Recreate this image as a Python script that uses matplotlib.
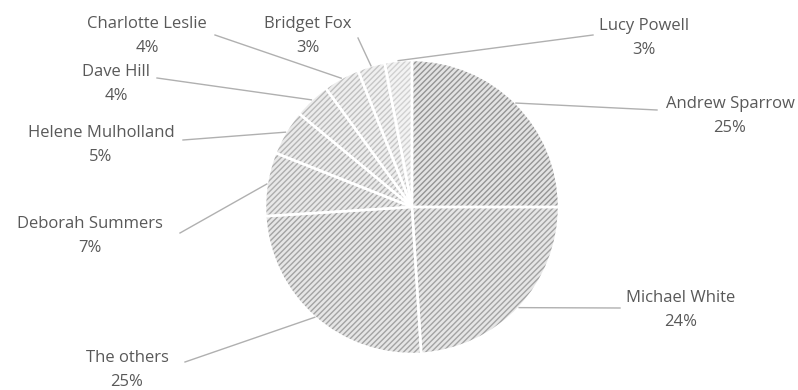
import matplotlib
matplotlib.use("Agg")
import numpy as np
import matplotlib.pyplot as plt

# ==========================================================
# DATA
# ==========================================================

names = ["Andrew Sparrow", "Michael White", "The others", "Deborah Summers",
         "Helene Mulholland", "Dave Hill", "Charlotte Leslie", "Bridget Fox",
         "Lucy Powell"]
shares = [25, 24, 25, 7, 5, 4, 4, 3, 3]

# ==========================================================
# STYLE / LAYOUT (pixel coords, y measured from the top)
# ==========================================================

face = ["#e3e3e3", "#e6e6e6", "#e6e6e6", "#e8e8e8", "#eaeaea",
        "#ececec", "#eeeeee", "#f0f0f0", "#f3f3f3"]
hatch_col = ["#959595", "#a3a3a3", "#a3a3a3", "#adadad", "#b4b4b4",
             "#bababa", "#c0c0c0", "#c6c6c6", "#d0d0d0"]

# text centre, leader line end
label_pos = [(730, 104), (681, 298), (127, 358), (90, 224), (101, 133),
             (116, 72), (147, 24), (308, 24), (644, 26)]
line_end = [(657, 110), (620, 308), (185, 362), (180, 233), (183, 140),
            (157, 78), (215, 35), (358, 38), (593, 35)]

W, H = 798, 390
cx, cy, R = 412, 207, 147

fig = plt.figure(figsize=(W / 100, H / 100), dpi=100)
ax = fig.add_axes([0, 0, 1, 1])

# hatched fill
wedges, _ = ax.pie(shares, center=(cx, H - cy), radius=R, startangle=90,
                   counterclock=False, colors=face, frame=True,
                   wedgeprops=dict(linewidth=0))
for w, hc in zip(wedges, hatch_col):
    w.set_hatch("//////")
    w.set_edgecolor(hc)
    w.set_linewidth(0)

# white separators on top
ax.pie(shares, center=(cx, H - cy), radius=R, startangle=90,
       counterclock=False, colors=["none"] * len(shares), frame=True,
       wedgeprops=dict(linewidth=1.8, edgecolor="white", fill=False))

ax.set_xlim(0, W)
ax.set_ylim(0, H)
ax.set_aspect("equal")
ax.axis("off")

# labels with leader lines
total = sum(shares)
start = 0
for name, val, (tx, ty), (lx, ly) in zip(names, shares, label_pos, line_end):
    mid = (start + val / 2) / total * 2 * np.pi
    start += val
    px = cx + R * np.sin(mid)
    py = cy - R * np.cos(mid)
    ax.plot([px, lx], [H - py, H - ly], color="#b0b0b0", lw=1)
    ax.text(tx, H - ty, name, ha="center", va="center", fontsize=12,
            family="Open Sans", color="#595959")
    ax.text(tx, H - ty - 24, f"{val}%", ha="center", va="center",
            fontsize=12, family="Open Sans", color="#595959")

fig.savefig("out.png", dpi=100)
